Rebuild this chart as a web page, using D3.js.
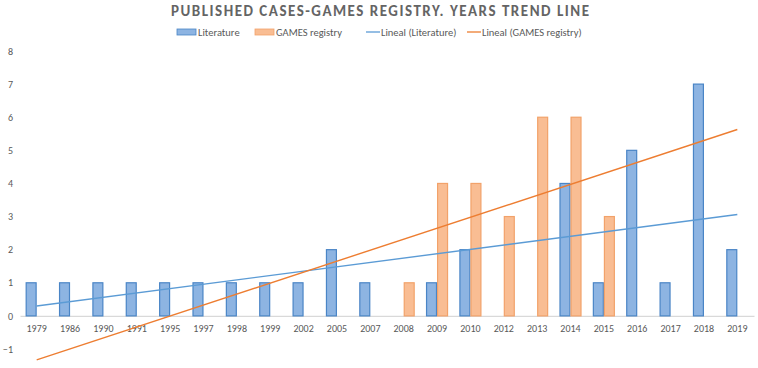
<!DOCTYPE html>
<html>
<head>
<meta charset="utf-8">
<script src="https://cdn.jsdelivr.net/npm/d3@7"></script>
<style>
  body { margin: 0; background: #fff; }
  text { font-family: Calibri, Carlito, "Open Sans", sans-serif; fill: #595959; }
</style>
</head>
<body>
<div id="vis-container"></div>
<script>
const width = 758,
      height = 368,
      margin = {top: 51, bottom: 19, left: 20, right: 4};

// years on the category axis
var years = ["1979", "1986", "1990", "1991", "1995", "1997", "1998", "1999", "2002", "2005", "2007",
             "2008", "2009", "2010", "2012", "2013", "2014", "2015", "2016", "2017", "2018", "2019"];
// published cases per year (0 = no bar)
var literature = [1, 1, 1, 1, 1, 1, 1, 1, 1, 2, 1, 0, 1, 2, 0, 0, 4, 1, 5, 1, 7, 2];
var gamesRegistry = [0, 0, 0, 0, 0, 0, 0, 0, 0, 0, 0, 1, 4, 4, 3, 6, 6, 3, 0, 0, 0, 0];
// trend line values at first and last year
var trendLiterature = [0.3, 3.06];
var trendGames = [-1.33, 5.63];
var yTicks = [-1, 0, 1, 2, 3, 4, 5, 6, 7, 8];

var seriesNames = ["Literature", "GAMES registry"];
var fills = ["#8db4e2", "#f9bd93"];
var strokes = ["#4a85c6", "#f2a26a"];
var lineColors = ["#5b9bd5", "#ed7d31"];

var svg = d3.select("#vis-container").append("svg")
    .attr("width", width)
    .attr("height", height);

// ******* Scales *******
var x = d3.scaleBand().domain(years).range([margin.left, width - margin.right]);
var y = d3.scaleLinear().domain([-1, 8]).range([height - margin.bottom, margin.top]);
var inner = d3.scaleBand().domain([0, 1]).range([-10.5, 10.5]).paddingInner(0.1);

// title
svg.append("text")
    .attr("x", 380)
    .attr("y", 16)
    .attr("text-anchor", "middle")
    .attr("textLength", 418)
    .style("font-size", "15px")
    .style("font-weight", "bold")
    .style("fill", "#646464")
    .text("PUBLISHED CASES-GAMES REGISTRY. YEARS TREND LINE");

// legend
var legend = svg.append("g").style("font-size", "10.5px");
[[177, 198], [255, 276]].forEach(function(p, i) {
    legend.append("rect")
        .attr("x", p[0]).attr("y", 29).attr("width", 19).attr("height", 6)
        .attr("fill", fills[i]).attr("stroke", strokes[i]).attr("stroke-width", 0.8);
    legend.append("text").attr("x", p[1]).attr("y", 36).text(seriesNames[i]);
});
[[366, 381], [467, 482]].forEach(function(p, i) {
    legend.append("line")
        .attr("x1", p[0]).attr("x2", p[0] + 14).attr("y1", 32).attr("y2", 32)
        .attr("stroke", lineColors[i]).attr("stroke-width", 1.3);
    legend.append("text").attr("x", p[1]).attr("y", 36).text("Lineal (" + seriesNames[i] + ")");
});

// y labels
svg.append("g")
    .attr("transform", "translate(13,0)")
    .call(d3.axisLeft(y).tickValues(yTicks).tickSize(0).tickPadding(0).tickFormat(d3.format("d")))
    .call(function(g) { g.select(".domain").remove(); })
    .selectAll("text")
    .style("font-size", "10px")
    .style("font-family", "Calibri, Carlito, 'Open Sans', sans-serif")
    .attr("fill", "#595959");

// x axis at zero
var xAxis = svg.append("g")
    .attr("transform", `translate(0 ${y(0)})`)
    .call(d3.axisBottom(x).tickSize(0).tickPadding(9));
xAxis.select(".domain").attr("stroke", "#d9d9d9").attr("stroke-width", 1.2);
xAxis.selectAll("text")
    .style("font-size", "10px")
    .style("font-family", "Calibri, Carlito, 'Open Sans', sans-serif")
    .attr("fill", "#595959");

// bars
[literature, gamesRegistry].forEach(function(values, s) {
    svg.append("g").selectAll("rect")
        .data(years.map(function(yr, i) { return {year: yr, value: values[i]}; })
                   .filter(function(d) { return d.value > 0; }))
        .enter()
        .append("rect")
        .attr("x", function(d) { return x(d.year) + x.bandwidth() / 2 + inner(s); })
        .attr("y", function(d) { return y(d.value); })
        .attr("width", inner.bandwidth())
        .attr("height", function(d) { return y(0) - y(d.value); })
        .attr("fill", fills[s])
        .attr("stroke", strokes[s])
        .attr("stroke-width", 1.2);
});

// trend lines
[trendLiterature, trendGames].forEach(function(t, s) {
    var ends = [years[0], years[years.length - 1]];
    svg.append("path")
        .datum(ends.map(function(yr, i) { return [x(yr) + x.bandwidth() / 2, y(t[i])]; }))
        .attr("d", d3.line())
        .attr("fill", "none")
        .attr("stroke", lineColors[s])
        .attr("stroke-width", 1.4);
});
</script>
</body>
</html>
